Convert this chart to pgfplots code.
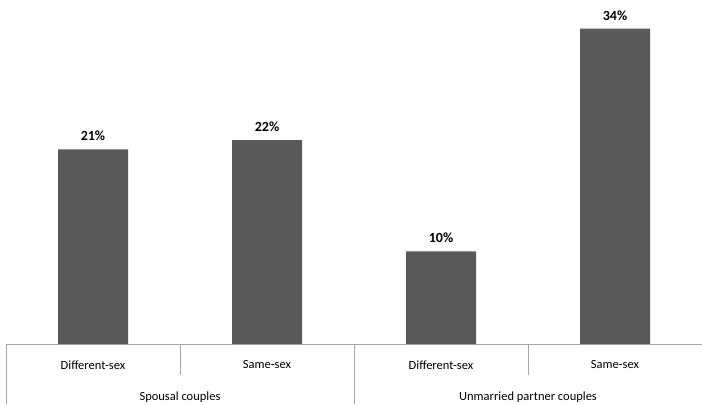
\documentclass[border=0pt]{standalone}
\usepackage{pgfplots}
\pgfplotsset{compat=1.18}
\usepackage{fontspec}
\setmainfont{Carlito}
\definecolor{barc}{HTML}{595959}
\definecolor{linec}{HTML}{A6A6A6}
\begin{document}
\begin{tikzpicture}
\begin{axis}[name=ax,
  scale only axis, width=696pt, height=344pt,
  xmin=-0.5, xmax=3.5, ymin=0, ymax=37.1,
  axis y line=none, axis x line=bottom,
  axis line style={-, draw=linec, line width=0.8pt},
  ybar, bar width=70pt,
  xtick={0,1,2,3},
  xticklabels={Different-sex,Same-sex,Different-sex,Same-sex},
  major tick length=0pt,
  xticklabel style={font=\fontsize{12.5}{14}\selectfont, yshift=-13pt},
  /pgf/number format/assume math mode=true,
  nodes near coords={\pgfmathprintnumber{\pgfplotspointmeta}\%},
  nodes near coords style={font=\fontsize{14}{16}\selectfont\bfseries, yshift=5pt},
  clip=false,
]
\addplot[fill=barc, draw=none] coordinates {(0,21) (1,22) (2,10) (3,34)};
\draw[linec, line width=0.8pt] (axis cs:-0.5,0) -- ++(0pt,-60pt);
\draw[linec, line width=0.8pt] (axis cs:0.5,0) -- ++(0pt,-31pt);
\draw[linec, line width=0.8pt] (axis cs:1.5,0) -- ++(0pt,-60pt);
\draw[linec, line width=0.8pt] (axis cs:2.5,0) -- ++(0pt,-31pt);
\node[font=\fontsize{12.5}{14}\selectfont] at ([yshift=-53pt]axis cs:0.5,0) {Spousal couples};
\node[font=\fontsize{12.5}{14}\selectfont] at ([yshift=-53pt]axis cs:2.5,0) {Unmarried partner couples};
\end{axis}
\pgfresetboundingbox
\path[use as bounding box] ([xshift=-6pt,yshift=-60pt]ax.south west) rectangle (ax.north east);
\end{tikzpicture}
\end{document}
